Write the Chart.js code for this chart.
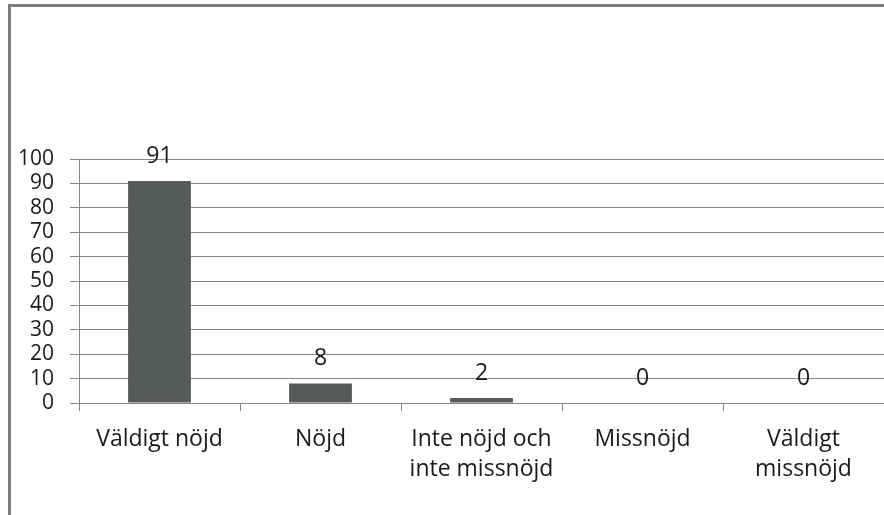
<!DOCTYPE html>
<html>
<head>
<meta charset="utf-8">
<script src="https://cdn.jsdelivr.net/npm/chart.js@4/dist/chart.umd.min.js"></script>
<style>
html,body{margin:0;padding:0;background:#fff;}
#wrap{position:relative;width:884px;height:515px;overflow:hidden;}
#frame{position:absolute;left:8px;top:4px;width:900px;height:600px;border-left:3px solid #7b7e7e;border-top:3px solid #7b7e7e;}
canvas{position:absolute;left:0;top:0;}
</style>
</head>
<body>
<div id="wrap">
<div id="frame"></div>
<canvas id="chart" width="884" height="515"></canvas>
</div>
<script>
const categories = [
  'Väldigt nöjd',
  'Nöjd',
  ['Inte nöjd och', 'inte missnöjd'],
  'Missnöjd',
  ['Väldigt', 'missnöjd']
];
const values = [91, 8, 2, 0, 0];
const yTicks = [0, 100, 10]; // min, max, step

const FONT = '"Open Sans", "Liberation Sans", sans-serif';
const GRID = '#878787';

// draws the value above each bar
const valueLabels = {
  id: 'valueLabels',
  afterDatasetsDraw(chart){
    const ctx = chart.ctx;
    const meta = chart.getDatasetMeta(0);
    ctx.save();
    ctx.font = '23px ' + FONT;
    ctx.fillStyle = '#1a1a1a';
    ctx.textAlign = 'center';
    ctx.textBaseline = 'middle';
    meta.data.forEach((bar, i) => {
      ctx.fillText(String(values[i]), bar.x, bar.y - 25);
    });
    ctx.restore();
  }
};

const ctx = document.getElementById('chart').getContext('2d');
new Chart(ctx, {
  type: 'bar',
  data: {
    labels: categories,
    datasets: [{
      data: values,
      backgroundColor: '#575a5a',
      borderWidth: 0,
      barPercentage: 0.39,
      categoryPercentage: 1.0
    }]
  },
  options: {
    responsive: false,
    animation: false,
    events: [],
    layout: {padding: {top: 159, left: 0, right: 0, bottom: 0}},
    plugins: {legend: {display: false}, tooltip: {enabled: false}},
    scales: {
      x: {
        offset: true,
        grid: {offset: true, drawOnChartArea: false, drawTicks: true, tickLength: 8, color: GRID, lineWidth: 1},
        border: {display: true, color: GRID},
        ticks: {font: {family: FONT, size: 23, lineHeight: 1.3}, color: '#1a1a1a', padding: 14, maxRotation: 0, autoSkip: false},
        afterFit(s){ s.height = 112; }
      },
      y: {
        min: yTicks[0], max: yTicks[1],
        grid: {color: GRID, lineWidth: 1, tickLength: 9, drawTicks: true},
        border: {display: true, color: GRID},
        ticks: {stepSize: yTicks[2], autoSkip: false, font: {family: FONT, size: 21, lineHeight: 1}, color: '#1a1a1a', padding: 16},
        afterFit(s){ s.width = 79; }
      }
    }
  },
  plugins: [valueLabels]
});
</script>
</body>
</html>
